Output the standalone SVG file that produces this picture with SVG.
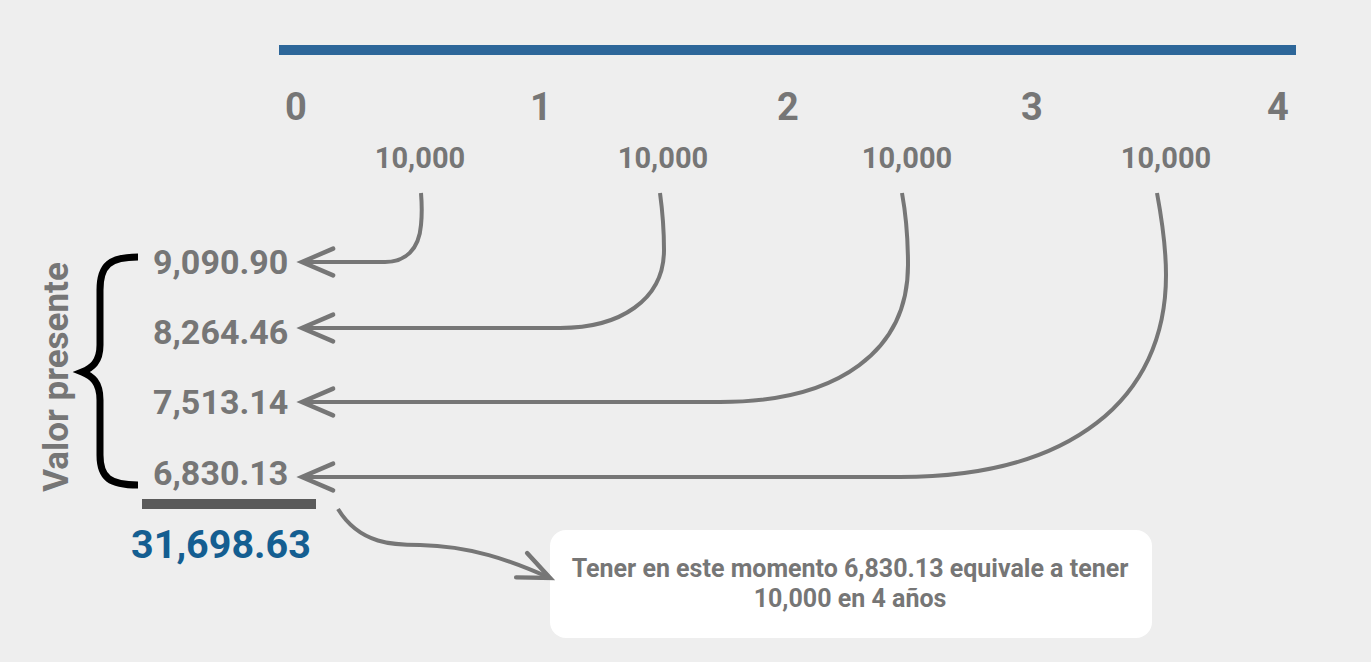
<svg xmlns="http://www.w3.org/2000/svg" width="1371" height="662" viewBox="0 0 1371 662">
<style>
.t{font-family:Roboto,"Liberation Sans",sans-serif;font-weight:bold;fill:#767676}
.yr{font-size:38px;text-anchor:middle}
.cf{font-size:29px;text-anchor:middle}
.pv{font-size:34px}
.con{fill:none;stroke:#767676;stroke-width:4}
</style>
<defs>
<marker id="chev" markerUnits="userSpaceOnUse" orient="auto" refX="0" refY="0" markerWidth="40" markerHeight="40" viewBox="-32 -16 36 32" overflow="visible">
<path d="M-28,-12 L0,0 L-28,12" fill="none" stroke="#767676" stroke-width="4" stroke-linecap="round"/>
</marker>
</defs>
<rect width="1371" height="662" fill="#EEEEEE"/>
<g id="timeline">
<rect x="279" y="45" width="1017" height="10" fill="#2D6699"/>
<text class="t yr" x="296" y="120">0</text>
<text class="t yr" x="541" y="120">1</text>
<text class="t yr" x="788" y="120">2</text>
<text class="t yr" x="1032" y="120">3</text>
<text class="t yr" x="1278" y="120">4</text>
</g>
<g id="cashflows">
<text class="t cf" x="420" y="168">10,000</text>
<text class="t cf" x="663" y="168">10,000</text>
<text class="t cf" x="907" y="168">10,000</text>
<text class="t cf" x="1166" y="168">10,000</text>
</g>
<g id="present-values">
<text class="t pv" x="153" y="274">9,090.90</text>
<text class="t pv" x="153" y="344">8,264.46</text>
<text class="t pv" x="153" y="414">7,513.14</text>
<text class="t pv" x="153" y="485">6,830.13</text>
</g>
<g id="label">
<text class="t" x="0" y="0" font-size="35" text-anchor="middle" transform="translate(68,377) rotate(-90)">Valor presente</text>
<path d="M138,257 C110,257 100,265 100,290 L100,345 C100,362 92,368 82,372 C92,376 100,382 100,400 L100,455 C100,478 110,485 138,485" fill="none" stroke="#000" stroke-width="7"/>
</g>
<g id="total">
<rect x="142" y="499" width="174" height="10" fill="#5A5A5A"/>
<text x="221" y="558" font-family="Roboto,'Liberation Sans',sans-serif" font-weight="bold" font-size="39.5" fill="#145E91" text-anchor="middle">31,698.63</text>
</g>
<g id="note">
<rect x="550" y="530" width="602" height="108" rx="16" fill="#FFFFFF"/>
<text class="t" x="850" y="577" font-size="25" text-anchor="middle">Tener en este momento 6,830.13 equivale a tener</text>
<text class="t" x="850" y="607" font-size="25" text-anchor="middle">10,000 en 4 años</text>
</g>
<g id="connectors">
<path class="con" marker-end="url(#chev)" d="M421,193 C422,205 422,215 421,225 C419,250 405,262 385,262 L302,262"/>
<path class="con" marker-end="url(#chev)" d="M660,193 C663,215 664,235 664,250 C664,300 620,328 560,328 L302,328"/>
<path class="con" marker-end="url(#chev)" d="M902,193 C906,215 908,240 908,265 C908,350 840,402 720,402 L302,402"/>
<path class="con" marker-end="url(#chev)" d="M1157,193 C1162,220 1166,245 1166,275 C1166,400 1070,477 900,477 L302,477"/>
<path class="con" marker-end="url(#chev)" d="M338,509 C360,545 395,545 420,545 C470,546 510,560 550,578"/>
</g>
</svg>
